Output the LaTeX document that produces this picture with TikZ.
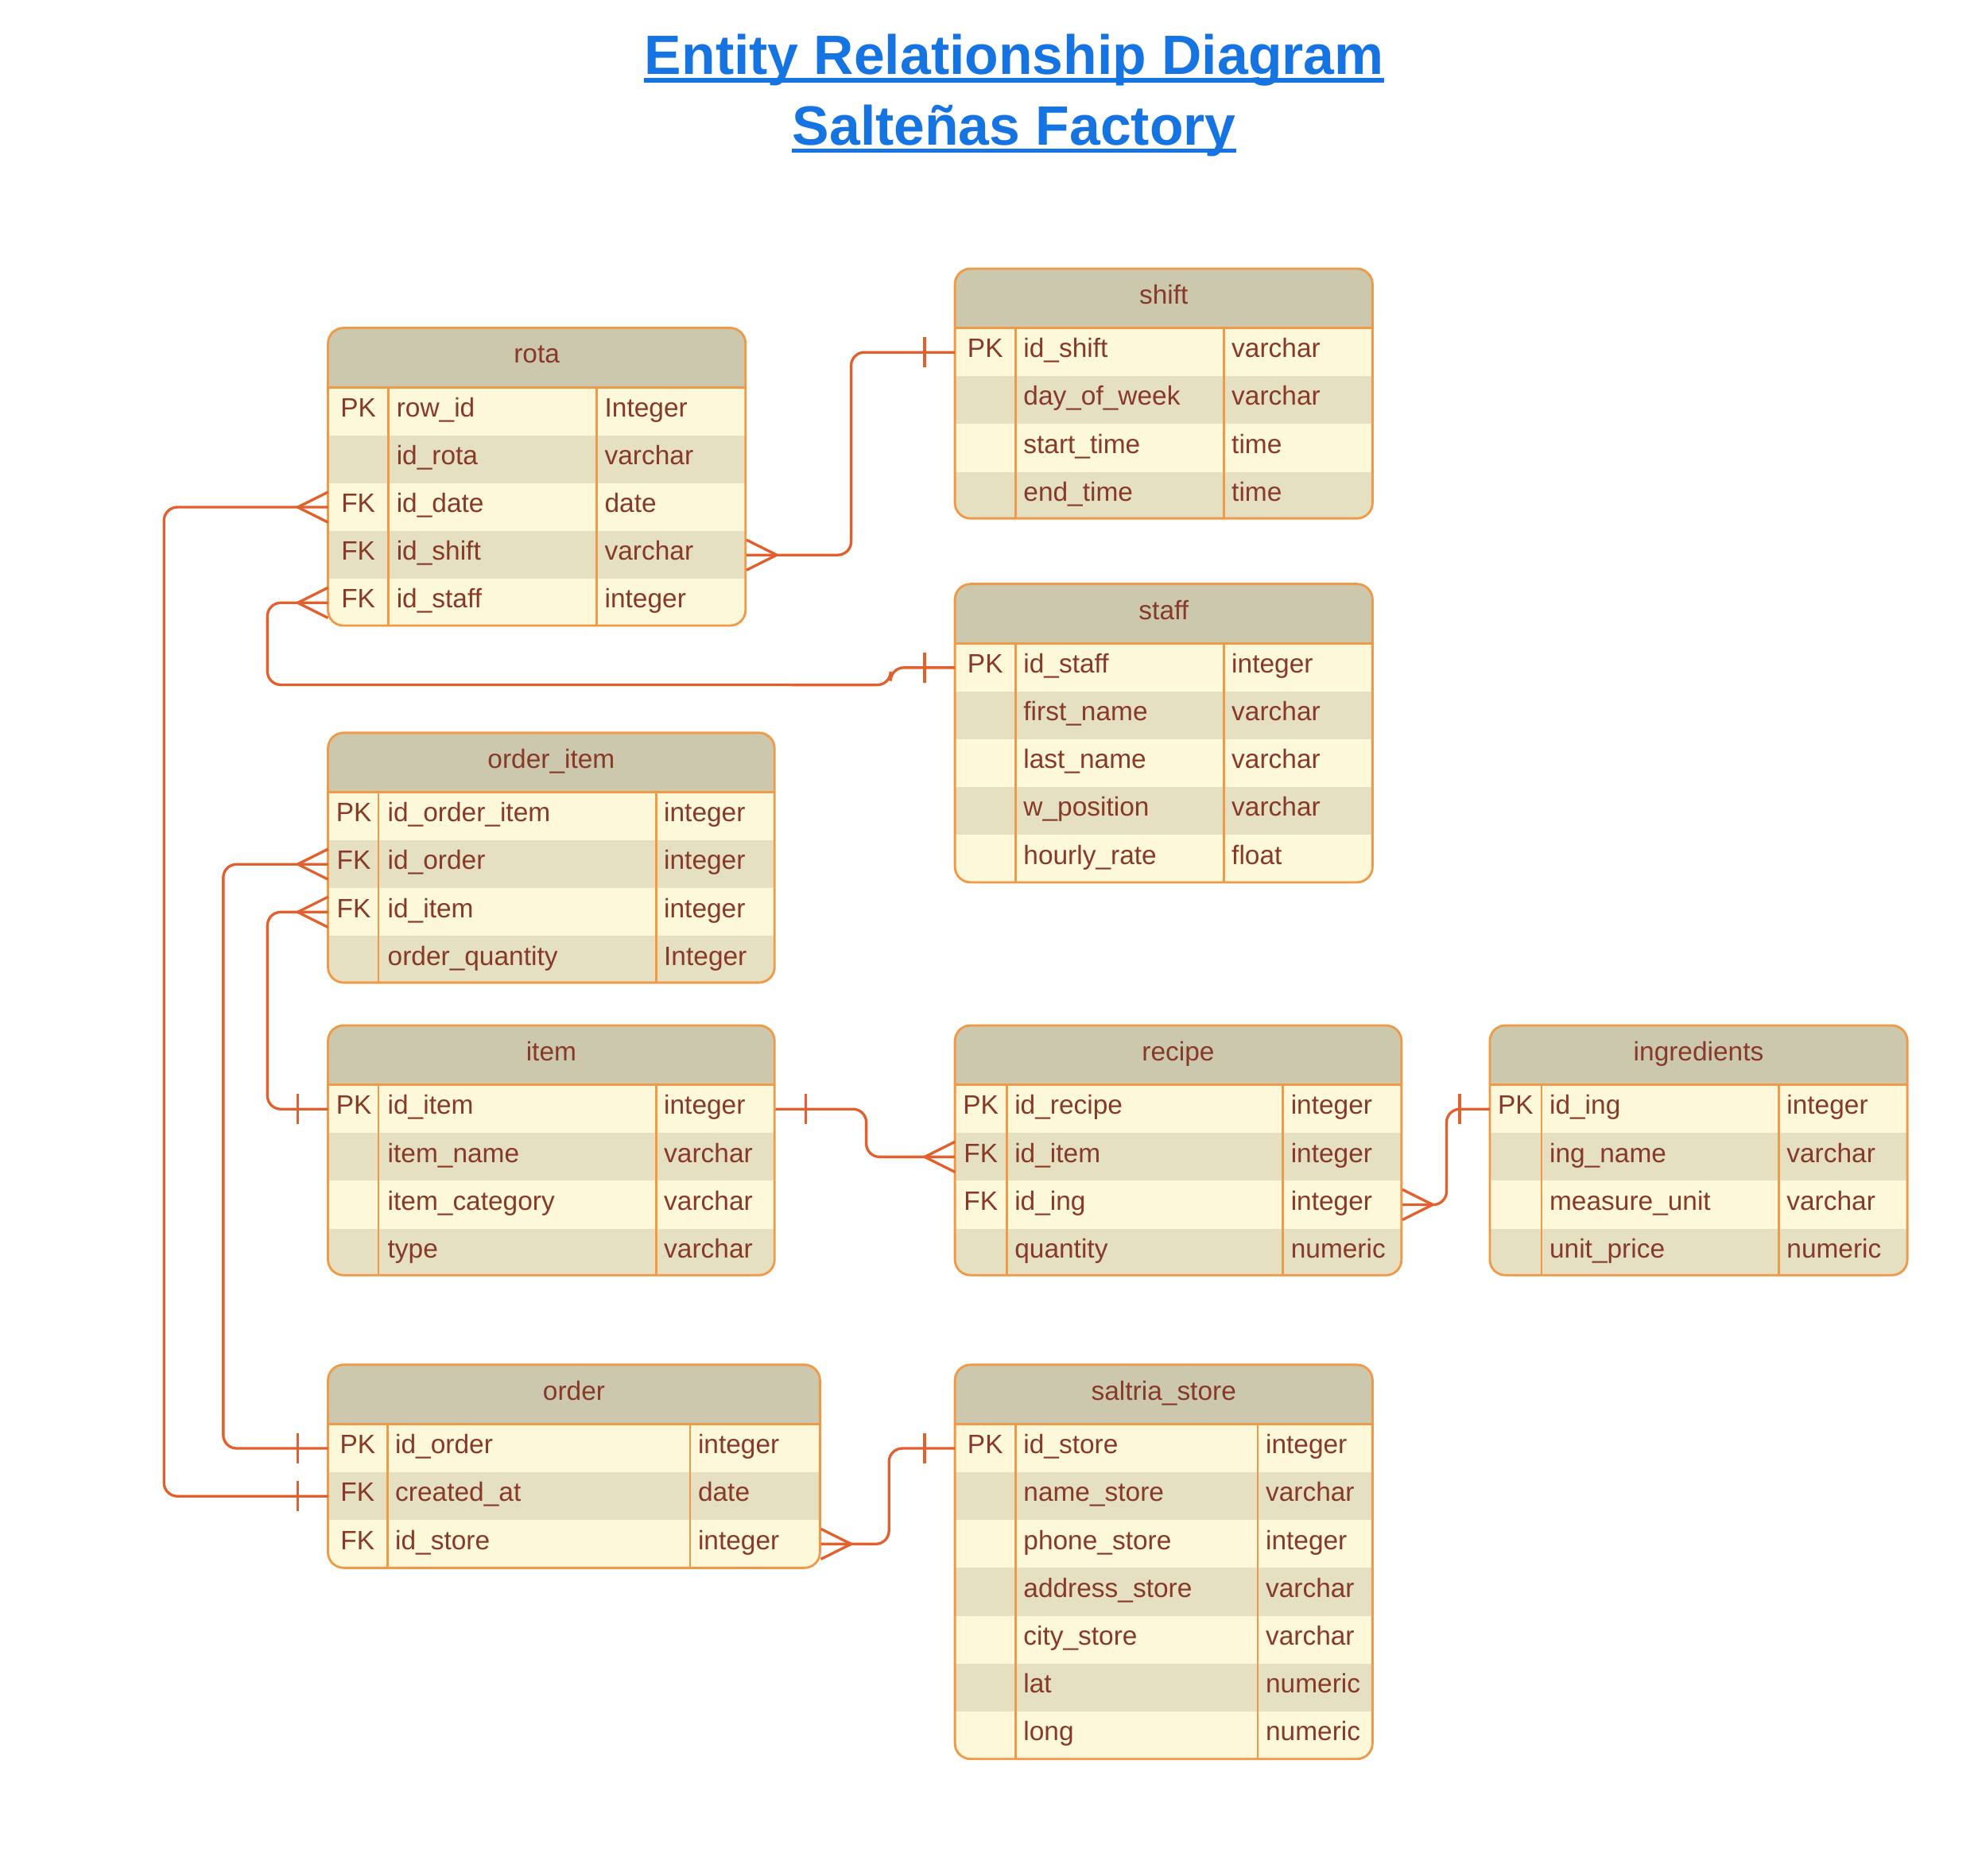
\documentclass[tikz,border=0pt]{standalone}
\usepackage{fontspec}
\setmainfont{Liberation Sans}
\usetikzlibrary{calc}
\definecolor{headfill}{HTML}{CCC8AD}
\definecolor{rowa}{HTML}{FEF8DA}
\definecolor{rowb}{HTML}{E5E0C2}
\definecolor{erdborder}{HTML}{F09A48}
\definecolor{erdline}{HTML}{E2602E}
\definecolor{erdtext}{HTML}{873A28}
\definecolor{titleblue}{HTML}{1673E2}

\begin{document}
\begin{tikzpicture}[x=0.2mm, y=-0.2mm,
head/.style={inner sep=0, anchor=north west, fill=headfill, minimum height=9.4mm},
rowbox/.style={inner sep=0, anchor=north west, minimum height=7.58mm},
cell/.style={inner sep=0, text=erdtext, font=\fontsize{12}{14}\selectfont, anchor=base west},
keycell/.style={cell, anchor=base},
headtext/.style={cell, anchor=base},
title/.style={inner sep=0, anchor=base, text=titleblue, font=\fontsize{25}{30}\selectfont\bfseries},
titleline/.style={draw=titleblue, line width=0.7mm},
tbl/.style={draw=erdborder, line width=0.36mm},
rel/.style={draw=erdline, line width=0.42mm}]
\useasboundingbox (0,0) rectangle (1568,1487);
\node[title] (t1) at (804,59) {Entity Relationship Diagram};
\node[title] (t2) at (804,115) {Salteñas Factory};
\draw[titleline] ($(t1.base west)+(0,4.5)$) -- ($(t1.base east)+(0,4.5)$);
\draw[titleline] ($(t2.base west)+(0,4.5)$) -- ($(t2.base east)+(0,4.5)$);
%%%%%%%%%% rota %%%%%%%%%%%
\begin{scope}
\clip[rounded corners=7] (260,260) rectangle (591,496);
\node[head, minimum width=66.2mm] (rota) at (260,260) {};
\foreach \kk/\nm/\ty [count=\i] in {PK/row\_id/Integer, {}/id\_rota/varchar, FK/id\_date/date, FK/id\_shift/varchar, FK/id\_staff/integer} {
  \pgfmathsetmacro\yy{307+(\i-1)*37.9}
  \ifodd\i\relax\def\rc{rowa}\else\def\rc{rowb}\fi
  \node[rowbox, fill=\rc, minimum width=66.2mm] (rota-\i) at (260,\yy) {};
  \node[keycell] (rota-k\i) at (284,\yy+23.5) {\kk};
  \node[cell] (rota-n\i) at (314,\yy+23.5) {\nm};
  \node[cell] (rota-t\i) at (479,\yy+23.5) {\ty};
}
\end{scope}
\draw[tbl, rounded corners=7] (260,260) rectangle (591,496);
\draw[tbl] (260,307) -- (591,307) (308,307) -- (308,496) (473,307) -- (473,496);
\node[headtext] (rota-title) at (425.5,288) {rota};
%%%%%%%%%% shift %%%%%%%%%%%
\begin{scope}
\clip[rounded corners=7] (757,213) rectangle (1088,411);
\node[head, minimum width=66.2mm] (shift) at (757,213) {};
\foreach \kk/\nm/\ty [count=\i] in {PK/id\_shift/varchar, {}/day\_of\_week/varchar, {}/start\_time/time, {}/end\_time/time} {
  \pgfmathsetmacro\yy{260+(\i-1)*37.9}
  \ifodd\i\relax\def\rc{rowa}\else\def\rc{rowb}\fi
  \node[rowbox, fill=\rc, minimum width=66.2mm] (shift-\i) at (757,\yy) {};
  \node[keycell] (shift-k\i) at (781,\yy+23.5) {\kk};
  \node[cell] (shift-n\i) at (811,\yy+23.5) {\nm};
  \node[cell] (shift-t\i) at (976,\yy+23.5) {\ty};
}
\end{scope}
\draw[tbl, rounded corners=7] (757,213) rectangle (1088,411);
\draw[tbl] (757,260) -- (1088,260) (805,260) -- (805,411) (970,260) -- (970,411);
\node[headtext] (shift-title) at (922.5,241) {shift};
%%%%%%%%%% staff %%%%%%%%%%%
\begin{scope}
\clip[rounded corners=7] (757,463) rectangle (1088,699.5);
\node[head, minimum width=66.2mm] (staff) at (757,463) {};
\foreach \kk/\nm/\ty [count=\i] in {PK/id\_staff/integer, {}/first\_name/varchar, {}/last\_name/varchar, {}/w\_position/varchar, {}/hourly\_rate/float} {
  \pgfmathsetmacro\yy{510+(\i-1)*37.9}
  \ifodd\i\relax\def\rc{rowa}\else\def\rc{rowb}\fi
  \node[rowbox, fill=\rc, minimum width=66.2mm] (staff-\i) at (757,\yy) {};
  \node[keycell] (staff-k\i) at (781,\yy+23.5) {\kk};
  \node[cell] (staff-n\i) at (811,\yy+23.5) {\nm};
  \node[cell] (staff-t\i) at (976,\yy+23.5) {\ty};
}
\end{scope}
\draw[tbl, rounded corners=7] (757,463) rectangle (1088,699.5);
\draw[tbl] (757,510) -- (1088,510) (805,510) -- (805,699.5) (970,510) -- (970,699.5);
\node[headtext] (staff-title) at (922.5,491) {staff};
%%%%%%%%%% order_item %%%%%%%%%%%
\begin{scope}
\clip[rounded corners=7] (260,581) rectangle (614,779);
\node[head, minimum width=70.8mm] (orderitem) at (260,581) {};
\foreach \kk/\nm/\ty [count=\i] in {PK/id\_order\_item/integer, FK/id\_order/integer, FK/id\_item/integer, {}/order\_quantity/Integer} {
  \pgfmathsetmacro\yy{628+(\i-1)*37.9}
  \ifodd\i\relax\def\rc{rowa}\else\def\rc{rowb}\fi
  \node[rowbox, fill=\rc, minimum width=70.8mm] (orderitem-\i) at (260,\yy) {};
  \node[keycell] (orderitem-k\i) at (280.5,\yy+23.5) {\kk};
  \node[cell] (orderitem-n\i) at (307,\yy+23.5) {\nm};
  \node[cell] (orderitem-t\i) at (526,\yy+23.5) {\ty};
}
\end{scope}
\draw[tbl, rounded corners=7] (260,581) rectangle (614,779);
\draw[tbl] (260,628) -- (614,628) (300,628) -- (300,779) (520,628) -- (520,779);
\node[headtext] (orderitem-title) at (437,609) {order\_item};
%%%%%%%%%% item %%%%%%%%%%%
\begin{scope}
\clip[rounded corners=7] (260,813) rectangle (614,1011);
\node[head, minimum width=70.8mm] (item) at (260,813) {};
\foreach \kk/\nm/\ty [count=\i] in {PK/id\_item/integer, {}/item\_name/varchar, {}/item\_category/varchar, {}/type/varchar} {
  \pgfmathsetmacro\yy{860+(\i-1)*37.9}
  \ifodd\i\relax\def\rc{rowa}\else\def\rc{rowb}\fi
  \node[rowbox, fill=\rc, minimum width=70.8mm] (item-\i) at (260,\yy) {};
  \node[keycell] (item-k\i) at (280.5,\yy+23.5) {\kk};
  \node[cell] (item-n\i) at (307,\yy+23.5) {\nm};
  \node[cell] (item-t\i) at (526,\yy+23.5) {\ty};
}
\end{scope}
\draw[tbl, rounded corners=7] (260,813) rectangle (614,1011);
\draw[tbl] (260,860) -- (614,860) (300,860) -- (300,1011) (520,860) -- (520,1011);
\node[headtext] (item-title) at (437,841) {item};
%%%%%%%%%% recipe %%%%%%%%%%%
\begin{scope}
\clip[rounded corners=7] (757,813) rectangle (1111,1011);
\node[head, minimum width=70.8mm] (recipe) at (757,813) {};
\foreach \kk/\nm/\ty [count=\i] in {PK/id\_recipe/integer, FK/id\_item/integer, FK/id\_ing/integer, {}/quantity/numeric} {
  \pgfmathsetmacro\yy{860+(\i-1)*37.9}
  \ifodd\i\relax\def\rc{rowa}\else\def\rc{rowb}\fi
  \node[rowbox, fill=\rc, minimum width=70.8mm] (recipe-\i) at (757,\yy) {};
  \node[keycell] (recipe-k\i) at (777.5,\yy+23.5) {\kk};
  \node[cell] (recipe-n\i) at (804,\yy+23.5) {\nm};
  \node[cell] (recipe-t\i) at (1023,\yy+23.5) {\ty};
}
\end{scope}
\draw[tbl, rounded corners=7] (757,813) rectangle (1111,1011);
\draw[tbl] (757,860) -- (1111,860) (798,860) -- (798,1011) (1017,860) -- (1017,1011);
\node[headtext] (recipe-title) at (934,841) {recipe};
%%%%%%%%%% ingredients %%%%%%%%%%%
\begin{scope}
\clip[rounded corners=7] (1181,813) rectangle (1512,1011);
\node[head, minimum width=66.2mm] (ingredients) at (1181,813) {};
\foreach \kk/\nm/\ty [count=\i] in {PK/id\_ing/integer, {}/ing\_name/varchar, {}/measure\_unit/varchar, {}/unit\_price/numeric} {
  \pgfmathsetmacro\yy{860+(\i-1)*37.9}
  \ifodd\i\relax\def\rc{rowa}\else\def\rc{rowb}\fi
  \node[rowbox, fill=\rc, minimum width=66.2mm] (ingredients-\i) at (1181,\yy) {};
  \node[keycell] (ingredients-k\i) at (1201.5,\yy+23.5) {\kk};
  \node[cell] (ingredients-n\i) at (1228,\yy+23.5) {\nm};
  \node[cell] (ingredients-t\i) at (1416,\yy+23.5) {\ty};
}
\end{scope}
\draw[tbl, rounded corners=7] (1181,813) rectangle (1512,1011);
\draw[tbl] (1181,860) -- (1512,860) (1222,860) -- (1222,1011) (1410,860) -- (1410,1011);
\node[headtext] (ingredients-title) at (1346.5,841) {ingredients};
%%%%%%%%%% order %%%%%%%%%%%
\begin{scope}
\clip[rounded corners=7] (260,1082) rectangle (650,1243);
\node[head, minimum width=78mm] (order) at (260,1082) {};
\foreach \kk/\nm/\ty [count=\i] in {PK/id\_order/integer, FK/created\_at/date, FK/id\_store/integer} {
  \pgfmathsetmacro\yy{1129+(\i-1)*37.9}
  \ifodd\i\relax\def\rc{rowa}\else\def\rc{rowb}\fi
  \node[rowbox, fill=\rc, minimum width=78mm] (order-\i) at (260,\yy) {};
  \node[keycell] (order-k\i) at (283.5,\yy+23.5) {\kk};
  \node[cell] (order-n\i) at (313,\yy+23.5) {\nm};
  \node[cell] (order-t\i) at (553,\yy+23.5) {\ty};
}
\end{scope}
\draw[tbl, rounded corners=7] (260,1082) rectangle (650,1243);
\draw[tbl] (260,1129) -- (650,1129) (307,1129) -- (307,1243) (547,1129) -- (547,1243);
\node[headtext] (order-title) at (455,1110) {order};
%%%%%%%%%% saltria_store %%%%%%%%%%%
\begin{scope}
\clip[rounded corners=7] (757,1082) rectangle (1088,1394.5);
\node[head, minimum width=66.2mm] (store) at (757,1082) {};
\foreach \kk/\nm/\ty [count=\i] in {PK/id\_store/integer, {}/name\_store/varchar, {}/phone\_store/integer, {}/address\_store/varchar, {}/city\_store/varchar, {}/lat/numeric, {}/long/numeric} {
  \pgfmathsetmacro\yy{1129+(\i-1)*37.9}
  \ifodd\i\relax\def\rc{rowa}\else\def\rc{rowb}\fi
  \node[rowbox, fill=\rc, minimum width=66.2mm] (store-\i) at (757,\yy) {};
  \node[keycell] (store-k\i) at (781,\yy+23.5) {\kk};
  \node[cell] (store-n\i) at (811,\yy+23.5) {\nm};
  \node[cell] (store-t\i) at (1003,\yy+23.5) {\ty};
}
\end{scope}
\draw[tbl, rounded corners=7] (757,1082) rectangle (1088,1394.5);
\draw[tbl] (757,1129) -- (1088,1129) (805,1129) -- (805,1394.5) (997,1129) -- (997,1394.5);
\node[headtext] (store-title) at (922.5,1110) {saltria\_store};
%%%%%%%%%% relations %%%%%%%%%%%
% rota.id_shift -- shift.id_shift
\draw[rel, rounded corners=6] (rota-4.east) -- ++(83,0) |- (shift-1.west);
\draw[rel] ($(rota-4.east)+(0,-12)$) -- ($(rota-4.east)+(24,0)$) -- ($(rota-4.east)+(0,12)$);
\draw[rel] ($(shift-1.west)+(-24,-12)$) -- ++(0,24);
% rota.id_date -- order.created_at
\draw[rel, rounded corners=6] (rota-3.west) -- ++(-130,0) |- (order-2.west);
\draw[rel] ($(rota-3.west)+(0,-12)$) -- ($(rota-3.west)+(-24,0)$) -- ($(rota-3.west)+(0,12)$);
\draw[rel] ($(order-2.west)+(-24,-12)$) -- ++(0,24);
% rota.id_staff -- staff.id_staff
\draw[rel, rounded corners=6] (rota-5.west) -- ++(-48,0) -- ++(0,65) -- (706,543) |- (staff-1.west);
\draw[rel] ($(rota-5.west)+(0,-12)$) -- ($(rota-5.west)+(-24,0)$) -- ($(rota-5.west)+(0,12)$);
\draw[rel] ($(staff-1.west)+(-24,-12)$) -- ++(0,24);
% order_item.id_order -- order.id_order
\draw[rel, rounded corners=6] (orderitem-2.west) -- ++(-83,0) |- (order-1.west);
\draw[rel] ($(orderitem-2.west)+(0,-12)$) -- ($(orderitem-2.west)+(-24,0)$) -- ($(orderitem-2.west)+(0,12)$);
\draw[rel] ($(order-1.west)+(-24,-12)$) -- ++(0,24);
% order_item.id_item -- item.id_item
\draw[rel, rounded corners=6] (orderitem-3.west) -- ++(-48,0) |- (item-1.west);
\draw[rel] ($(orderitem-3.west)+(0,-12)$) -- ($(orderitem-3.west)+(-24,0)$) -- ($(orderitem-3.west)+(0,12)$);
\draw[rel] ($(item-1.west)+(-24,-12)$) -- ++(0,24);
% item.id_item -- recipe.id_item
\draw[rel, rounded corners=6] (item-1.east) -- ++(72,0) |- (recipe-2.west);
\draw[rel] ($(item-1.east)+(24,-12)$) -- ++(0,24);
\draw[rel] ($(recipe-2.west)+(0,-12)$) -- ($(recipe-2.west)+(-24,0)$) -- ($(recipe-2.west)+(0,12)$);
% recipe.id_ing -- ingredients.id_ing
\draw[rel, rounded corners=6] (recipe-3.east) -- ++(35,0) |- (ingredients-1.west);
\draw[rel] ($(recipe-3.east)+(0,-12)$) -- ($(recipe-3.east)+(24,0)$) -- ($(recipe-3.east)+(0,12)$);
\draw[rel] ($(ingredients-1.west)+(-24,-12)$) -- ++(0,24);
% order.id_store -- saltria_store.id_store
\draw[rel, rounded corners=6] (order-3.east) -- ++(54,0) |- (store-1.west);
\draw[rel] ($(order-3.east)+(0,-12)$) -- ($(order-3.east)+(24,0)$) -- ($(order-3.east)+(0,12)$);
\draw[rel] ($(store-1.west)+(-24,-12)$) -- ++(0,24);
\end{tikzpicture}
\end{document}
